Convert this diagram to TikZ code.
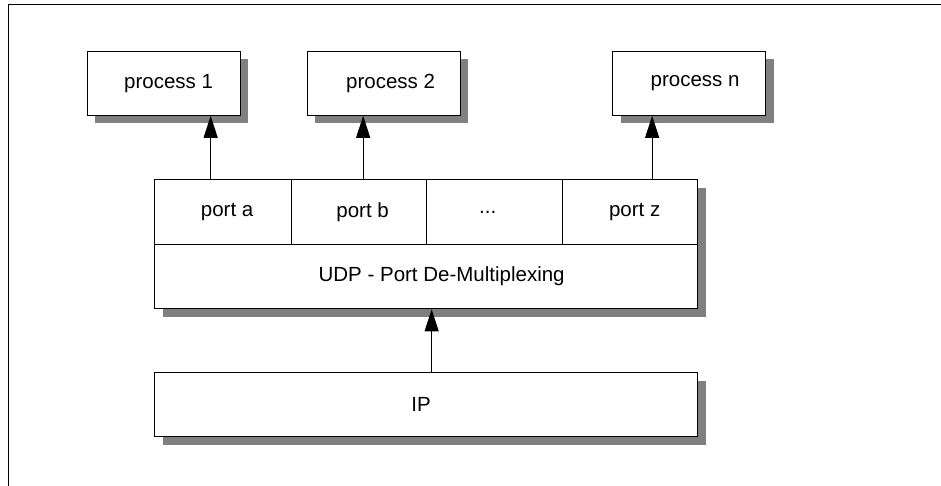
\documentclass[tikz,border=0pt]{standalone}
\usepackage{fontspec}
\setmainfont{Liberation Sans}
\usetikzlibrary{arrows.meta,shadows}
\definecolor{shadowgray}{HTML}{808080}
\begin{document}
\begin{tikzpicture}[x=1pt,y=-1pt,
  font=\fontsize{20.5}{24}\selectfont,
  box/.style={draw=black,fill=white,line width=1.3pt,inner sep=0pt,anchor=north west},
  shbox/.style={box,drop shadow={shadow xshift=8pt,shadow yshift=-8pt,fill=shadowgray,opacity=1}},
  lbl/.style={inner sep=0pt},
  arr/.style={line width=1.1pt,-{Triangle[width=14pt,length=22pt]}}]
\useasboundingbox (0,0) rectangle (941,485);
% frame
\draw[line width=1.6pt] (8.5,492) -- (8.5,4.5) -- (950,4.5);
% processes
\node[shbox,minimum width=153pt,minimum height=64pt] (p1) at (86.5,50.5) {};
\node[shbox,minimum width=153pt,minimum height=64pt] (p2) at (306.5,50.5) {};
\node[shbox,minimum width=153pt,minimum height=64pt] (pn) at (612,50.5) {};
\node[lbl] at ([xshift=5pt]p1.center) {process 1};
\node[lbl] at ([xshift=7pt]p2.center) {process 2};
\node[lbl] at ([xshift=6pt]pn.center) {process n};
% UDP box
\node[shbox,minimum width=543pt,minimum height=129pt] (udpbox) at (154,179) {};
\node[box,minimum width=137pt,minimum height=65pt] (pa) at (154,179) {};
\node[box,minimum width=135pt,minimum height=65pt] (pb) at (291,179) {};
\node[box,minimum width=136pt,minimum height=65pt] (pd) at (426,179) {};
\node[box,minimum width=135pt,minimum height=65pt] (pz) at (562,179) {};
\node[box,minimum width=543pt,minimum height=64pt] (udp) at (154,244) {};
\node[lbl] at ([xshift=4pt]pa.center) {port a};
\node[lbl] at ([xshift=3.5pt]pb.center) {port b};
\node[lbl] at ([xshift=-7pt]pd.center) {...};
\node[lbl] at ([xshift=4.5pt]pz.center) {port z};
\node[lbl] at ([xshift=15.5pt]udp.center) {UDP - Port De-Multiplexing};
% IP
\node[shbox,minimum width=543pt,minimum height=64pt] (ip) at (154,372) {};
\node[lbl] at ([xshift=-5pt]ip.center) {IP};
% arrows
\draw[arr] ([xshift=-12.5pt]pa.north) -- ([xshift=-12.5pt]pa.north |- p1.south);
\draw[arr] ([xshift=4pt]pb.north) -- ([xshift=4pt]pb.north |- p2.south);
\draw[arr] ([xshift=22pt]pz.north) -- ([xshift=22pt]pz.north |- pn.south);
\draw[arr] ([xshift=5.5pt]ip.north) -- ([xshift=5.5pt]ip.north |- udpbox.south);
\end{tikzpicture}
\end{document}
